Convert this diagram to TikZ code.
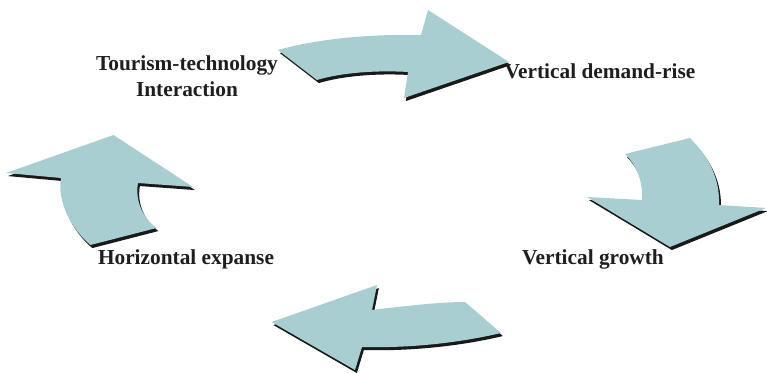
\documentclass[tikz,border=0pt]{standalone}
\usepackage{fontspec}
\setmainfont{Liberation Serif}
\usepackage{xcolor}
\definecolor{cycTeal}{RGB}{169, 206, 209}
\definecolor{cycShadow}{RGB}{25, 25, 25}
\definecolor{cycText}{RGB}{30, 30, 30}
\usepackage{tikz}
\usetikzlibrary{positioning}

\begin{document}
\begin{tikzpicture}[
    x=0.75pt, y=-0.75pt,
    cycArrow/.style={
        fill=cycTeal, draw=none
    },
    cycShade/.style={
        fill=cycShadow, draw=none, xshift=1.4pt, yshift=-2.3pt
    },
    stageLabel/.style={
        font=\fontsize{16}{19.5}\selectfont\bfseries, text=cycText,
        inner sep=0pt, align=center
    }
]
    \useasboundingbox (0,0) rectangle (767,373);

    % Curved arrow shapes (top, right, bottom, left)
    \def\arrowTop{(278,50) .. controls (320,38) and (375,34) .. (421,35) -- (428,10) -- (509,62)
        -- (404,98) -- (408,72) .. controls (375,70) and (340,73) .. (317,80) -- cycle}
    \def\arrowRight{(625,154) -- (690,138) .. controls (710,158) and (720,180) .. (719,205)
        -- (766,208) -- (670,247) -- (587,197) -- (642,200) .. controls (643,180) and (636,165) .. (625,154) -- cycle}
    \def\arrowBottom{(465,302) -- (501,333) .. controls (450,345) and (400,348) .. (362,347)
        -- (355,370) -- (271.5,322) -- (377,285) -- (372,310) .. controls (405,306) and (440,302) .. (465,302) -- cycle}
    \def\arrowLeft{(90.5,245) .. controls (70,228) and (57,200) .. (61,178) -- (6,173)
        -- (113.5,135) -- (193,187) -- (138,183) .. controls (135,200) and (142,217) .. (156.5,228) -- cycle}

    \foreach \shape in {\arrowTop, \arrowRight, \arrowBottom, \arrowLeft} {
        \fill[cycShade] \shape;
        \fill[cycArrow] \shape;
    }

    % Stage labels
    \node[stageLabel] (lblTourism) at (187,76) {Tourism-technology\\Interaction};
    \node[stageLabel, anchor=base] (lblDemand) at (600,79) {Vertical demand-rise};
    \node[stageLabel, anchor=base] (lblGrowth) at (593,265) {Vertical growth};
    \node[stageLabel, anchor=base] (lblExpanse) at (186,265) {Horizontal expanse};

\end{tikzpicture}
\end{document}
